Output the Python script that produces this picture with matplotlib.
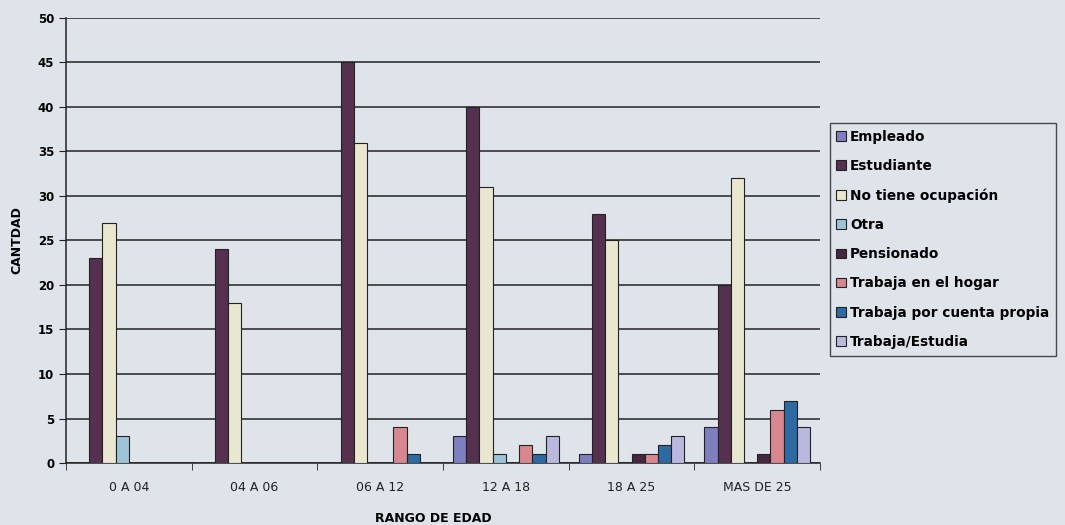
import matplotlib.pyplot as plt
import numpy as np

categorias = ['0 A 04', '04 A 06', '06 A 12', '12 A 18', '18 A 25', 'MAS DE 25']
series = ['Empleado', 'Estudiante', 'No tiene ocupación', 'Otra', 'Pensionado',
          'Trabaja en el hogar', 'Trabaja por cuenta propia', 'Trabaja/Estudia']

empleado = [0, 0, 0, 3, 1, 4]
estudiante = [23, 24, 45, 40, 28, 20]
no_tiene = [27, 18, 36, 31, 25, 32]
otra = [3, 0, 0, 1, 0, 0]
pensionado = [0, 0, 0, 0, 1, 1]
hogar = [0, 0, 4, 2, 1, 6]
cuenta_propia = [0, 0, 1, 1, 2, 7]
trabaja_estudia = [0, 0, 0, 3, 3, 4]

valores = [empleado, estudiante, no_tiene, otra, pensionado, hogar, cuenta_propia, trabaja_estudia]
colores = ['#7f7fbf', '#55304f', '#e9e7cf', '#9cc3d6', '#45283f', '#d7878f', '#2d6aa3', '#b9b9df']

fondo = '#dfe3ea'
fig = plt.figure(figsize=(10.65, 5.25), dpi=100, facecolor=fondo)
ax = fig.add_axes([0.062, 0.118, 0.708, 0.848], facecolor=fondo)

x = np.arange(len(categorias))
n = len(series)
ancho = 1 / (n + 1.5)
for i, (nombre, v, c) in enumerate(zip(series, valores, colores)):
    pos = x - 0.5 + 0.75 * ancho + (i + 0.5) * ancho
    # las barras en cero no se ven en el original
    h = np.array(v, dtype=float)
    h[h == 0] = np.nan
    ax.bar(pos, h, width=ancho, color=c, edgecolor='#222222', linewidth=0.8, label=nombre, zorder=3)

ax.set_xlim(-0.5, len(categorias) - 0.5)
ax.set_ylim(0, 50)
ax.set_yticks(range(0, 51, 5))
ax.yaxis.grid(True, color='#222222', linewidth=1.1, zorder=0)
ax.set_xticks(x)
ax.set_xticklabels(categorias, fontsize=9, color='#222222')
ax.set_xticks(np.arange(-0.5, len(categorias)), minor=True)
ax.tick_params(axis='x', which='major', length=0, pad=13)
ax.tick_params(axis='x', which='minor', length=5, color='#222222')
ax.tick_params(axis='y', length=5, color='#222222', labelsize=8.5)
for t in ax.get_yticklabels():
    t.set_fontweight('bold')
for s in ['top', 'right']:
    ax.spines[s].set_visible(False)
for s in ['left', 'bottom']:
    ax.spines[s].set_color('#222222')
    ax.spines[s].set_linewidth(1.1)

ax.set_ylabel('CANTDAD', fontsize=9, fontweight='bold', labelpad=10)
fig.text(433 / 1065, 1 - 519 / 525, 'RANGO DE EDAD', fontsize=9, fontweight='bold',
         ha='center', va='center')

leg = fig.legend(loc='upper left', bbox_to_anchor=(0.779, 0.766), frameon=True,
                 fancybox=False, edgecolor='#222222', facecolor=fondo, borderaxespad=0,
                 prop={'size': 9.8, 'weight': 'bold'}, handlelength=0.7, handleheight=0.7,
                 handletextpad=0.3, labelspacing=1.12, borderpad=0.5)
leg.get_frame().set_linewidth(1.0)

fig.savefig('out.png', dpi=100, facecolor=fondo)
